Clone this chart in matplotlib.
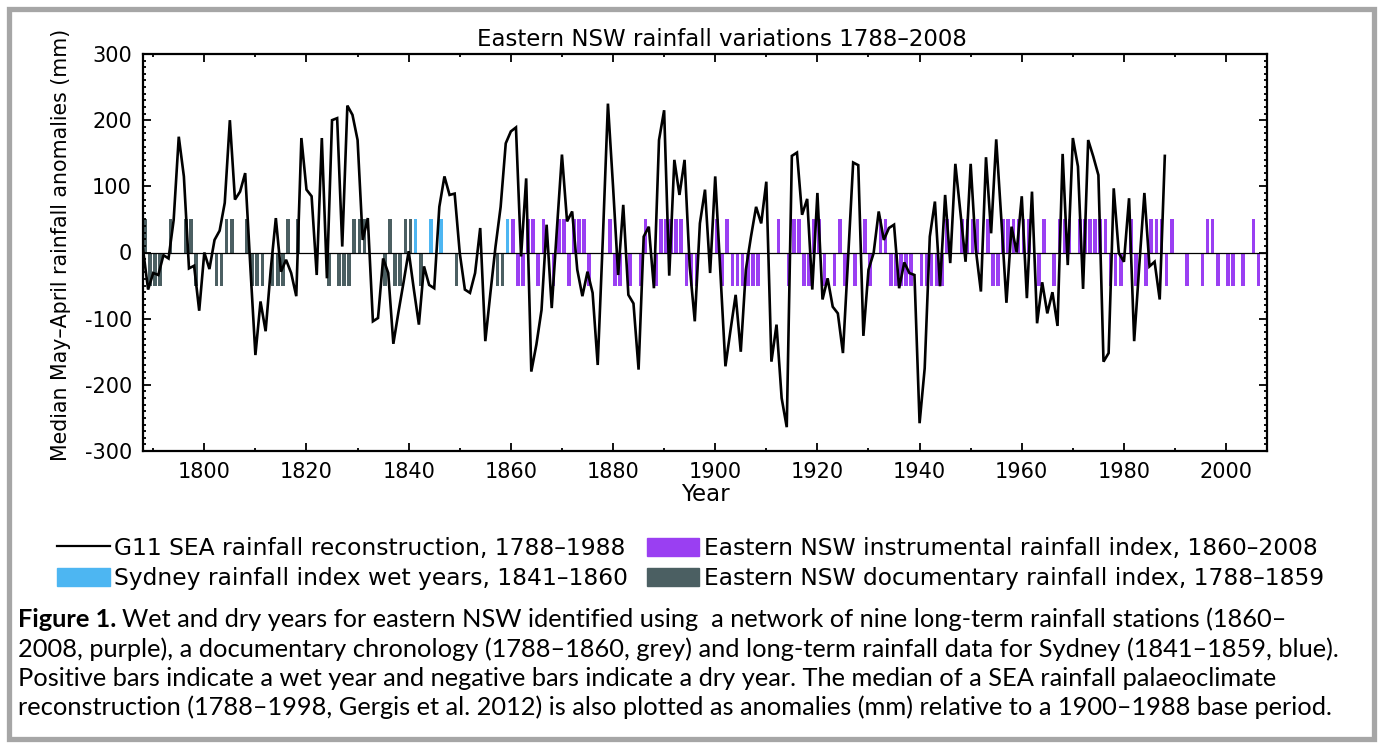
import numpy as np
import matplotlib
matplotlib.use('Agg')
import matplotlib.pyplot as plt
from matplotlib.lines import Line2D
from matplotlib.patches import Patch, Rectangle
from matplotlib.ticker import MultipleLocator

# ------------------------------------------------------------
# Data
# ------------------------------------------------------------
# G11 SEA rainfall reconstruction, median anomaly (mm), 1788-1988
recon_years = np.arange(1788, 1989)
recon_vals = [
    5, -56, -31, -34, -4, -9, 49, 175, 115, -24,            # 1788-1797
    -20, -88, 0, -25, 19, 33, 75, 200, 80, 92,               # 1798-1807
    120, -20, -155, -74, -119, -26, 52, -29, -11, -31,       # 1808-1817
    -66, 173, 95, 85, -34, 173, -39, 200, 203, 9,            # 1818-1827
    222, 208, 170, 19, 52, -104, -99, -9, -31, -138,         # 1828-1837
    -90, -45, 2, -55, -109, -21, -49, -54, 69, 115,          # 1838-1847
    87, 89, -1, -56, -61, -31, 37, -134, -61, 9,             # 1848-1857
    69, 165, 183, 189, -6, 112, -180, -139, -87, 42,         # 1858-1867
    -84, 34, 148, 47, 62, -26, -66, -29, -61, -170,          # 1868-1877
    20, 225, 100, -34, 72, -64, -77, -177, 24, 39,           # 1878-1887
    -54, 170, 215, -35, 140, 87, 140, -20, -104, 44,         # 1888-1897
    95, -31, 115, -30, -172, -117, -64, -150, -26, 24,       # 1898-1907
    69, 44, 107, -165, -109, -220, -264, 146, 151, 57,       # 1908-1917
    81, -56, 90, -71, -39, -82, -92, -152, -10, 136,         # 1918-1927
    132, -126, -26, -1, 62, 19, 37, 42, -54, -15,            # 1928-1937
    -31, -34, -258, -175, 24, 77, -51, 87, -16, 134,         # 1938-1947
    60, -14, 134, 5, -59, 144, 29, 171, 50, -76,             # 1948-1957
    39, 0, 85, -69, 92, -107, -45, -92, -60, -111,           # 1958-1967
    149, -19, 173, 130, -55, 170, 145, 117, -165, -152,      # 1968-1977
    97, -1, -14, 82, -134, -20, 90, -21, -14, -71,           # 1978-1987
    146,                                                     # 1988
]

# Eastern NSW documentary rainfall index (grey), 1788-1859
doc_wet = [1788, 1793, 1796, 1797, 1804, 1805, 1808, 1816, 1818, 1829,
           1830, 1831, 1836, 1839, 1840]
doc_dry = [1789, 1790, 1791, 1798, 1802, 1803, 1809, 1810, 1811, 1813,
           1814, 1815, 1824, 1826, 1827, 1828, 1835, 1837, 1838, 1842,
           1849, 1857, 1858]

# Sydney rainfall index wet years (blue), 1841-1860
syd_wet = [1841, 1844, 1846, 1859]

# Eastern NSW instrumental rainfall index (purple), 1860-2008
inst_wet = [1860, 1863, 1864, 1866, 1869, 1870, 1872, 1873, 1874, 1879,
            1886, 1889, 1890, 1891, 1892, 1893, 1900, 1902, 1912, 1915,
            1916, 1919, 1920, 1924, 1929, 1932, 1933, 1945, 1948, 1949,
            1950, 1951, 1953, 1956, 1957, 1958, 1959, 1960, 1961, 1964,
            1967, 1968, 1969, 1971, 1972, 1973, 1974, 1975, 1976, 1981,
            1985, 1986, 1987, 1989, 1996, 1997, 2005]
inst_dry = [1861, 1862, 1865, 1868, 1871, 1875, 1880, 1881, 1883, 1885,
            1888, 1894, 1895, 1896, 1901, 1903, 1904, 1905, 1906, 1907,
            1908, 1914, 1917, 1918, 1921, 1923, 1925, 1927, 1930, 1934,
            1935, 1936, 1937, 1938, 1940, 1941, 1942, 1943, 1944, 1954,
            1955, 1963, 1966, 1977, 1978, 1979, 1982, 1984, 1988, 1992,
            1995, 1998, 2000, 2001, 2003, 2006]

BAR_H = 50  # wet / dry bar height (mm)

# ------------------------------------------------------------
# Style
# ------------------------------------------------------------
GREY = '#4b5f62'
BLUE = '#4db6f2'
PURPLE = '#9a3ff2'

plt.rcParams['font.family'] = ['DejaVu Sans']
plt.rcParams['axes.unicode_minus'] = False

W, H = 1382, 747
fig = plt.figure(figsize=(W / 100, H / 100), dpi=100)
ax = fig.add_axes([143 / W, 1 - 451 / H, (1267 - 143) / W, (451 - 54) / H])

bw = 0.72
ax.bar(doc_wet, BAR_H, width=bw, align='edge', color=GREY, lw=0, zorder=1)
ax.bar(doc_dry, -BAR_H, width=bw, align='edge', color=GREY, lw=0, zorder=1)
ax.bar(syd_wet, BAR_H, width=bw, align='edge', color=BLUE, lw=0, zorder=1)
ax.bar(inst_wet, BAR_H, width=bw, align='edge', color=PURPLE, lw=0, zorder=1)
ax.bar(inst_dry, -BAR_H, width=bw, align='edge', color=PURPLE, lw=0, zorder=1)

ax.axhline(0, color='black', lw=0.9, zorder=2)
ax.plot(recon_years, recon_vals, color='black', lw=1.9, zorder=3,
        solid_joinstyle='miter')

ax.set_xlim(1788, 2008)
ax.set_ylim(-300, 300)
ax.xaxis.set_major_locator(MultipleLocator(20))
ax.xaxis.set_minor_locator(MultipleLocator(10))
ax.yaxis.set_major_locator(MultipleLocator(100))
ax.yaxis.set_minor_locator(MultipleLocator(10))
ax.tick_params(which='both', direction='in', top=True, right=True,
               labelsize=15, width=1.3, pad=8)
ax.tick_params(which='major', length=5.5)
ax.tick_params(which='minor', length=2.5)
for s in ax.spines.values():
    s.set_linewidth(1.6)

ax.set_xlabel('Year', fontsize=16.5, labelpad=1)
ax.set_ylabel('Median May\u2013April rainfall anomalies (mm)', fontsize=14.8)
ax.yaxis.set_label_coords(-0.064, 0.52)

fig.text(722 / W, 1 - 39 / H, 'Eastern NSW rainfall variations 1788\u20132008',
         ha='center', va='center', fontsize=16.5)

# ------------------------------------------------------------
# Legend
# ------------------------------------------------------------
handles = [
    Line2D([], [], color='black', lw=1.6),
    Patch(color=BLUE),
    Patch(color=PURPLE),
    Patch(color=GREY),
]
labels = [
    'G11 SEA rainfall reconstruction, 1788\u20131988',
    'Sydney rainfall index wet years, 1841\u20131860',
    'Eastern NSW instrumental rainfall index, 1860\u20132008',
    'Eastern NSW documentary rainfall index, 1788\u20131859',
]
fig.legend(handles, labels, ncol=2, loc='upper left',
           bbox_to_anchor=(57 / W, 1 - 537 / H), frameon=False,
           fontsize=16.8, handlelength=2.25, handleheight=0.8,
           handletextpad=0.2, columnspacing=0.8, labelspacing=0.32,
           borderpad=0, borderaxespad=0)

# ------------------------------------------------------------
# Caption
# ------------------------------------------------------------
cap_font = 'Lato'
cap_size = 18.3
cap_lines = [
    'Wet and dry years for eastern NSW identified using  a network of nine '
    'long-term rainfall stations (1860\u2013',
    '2008, purple), a documentary chronology (1788\u20131860, grey) and '
    'long-term rainfall data for Sydney (1841\u20131859, blue).',
    'Positive bars indicate a wet year and negative bars indicate a dry year. '
    'The median of a SEA rainfall palaeoclimate',
    'reconstruction (1788\u20131998, Gergis et al. 2012) is also plotted as '
    'anomalies (mm) relative to a 1900\u20131988 base period.',
]
cap_y = [631, 661, 690, 719]

t0 = fig.text(18 / W, 1 - cap_y[0] / H, 'Figure 1.', fontweight='bold',
              family=cap_font, fontsize=cap_size, va='bottom', ha='left')
ax.annotate(cap_lines[0], xy=(1, 0), xycoords=t0, xytext=(4, 0),
            textcoords='offset points', va='bottom', ha='left',
            family=cap_font, fontsize=cap_size, annotation_clip=False)
for line, yy in zip(cap_lines[1:], cap_y[1:]):
    fig.text(18 / W, 1 - yy / H, line, family=cap_font, fontsize=cap_size,
             va='bottom', ha='left')

# grey frame around the whole figure
fig.patches.append(Rectangle((8.5 / W, 8.5 / H), (W - 17) / W, (H - 17) / H,
                             transform=fig.transFigure, fill=False,
                             edgecolor='#a6a6a6', lw=3.8, zorder=0))

fig.savefig('out.png', dpi=100)
